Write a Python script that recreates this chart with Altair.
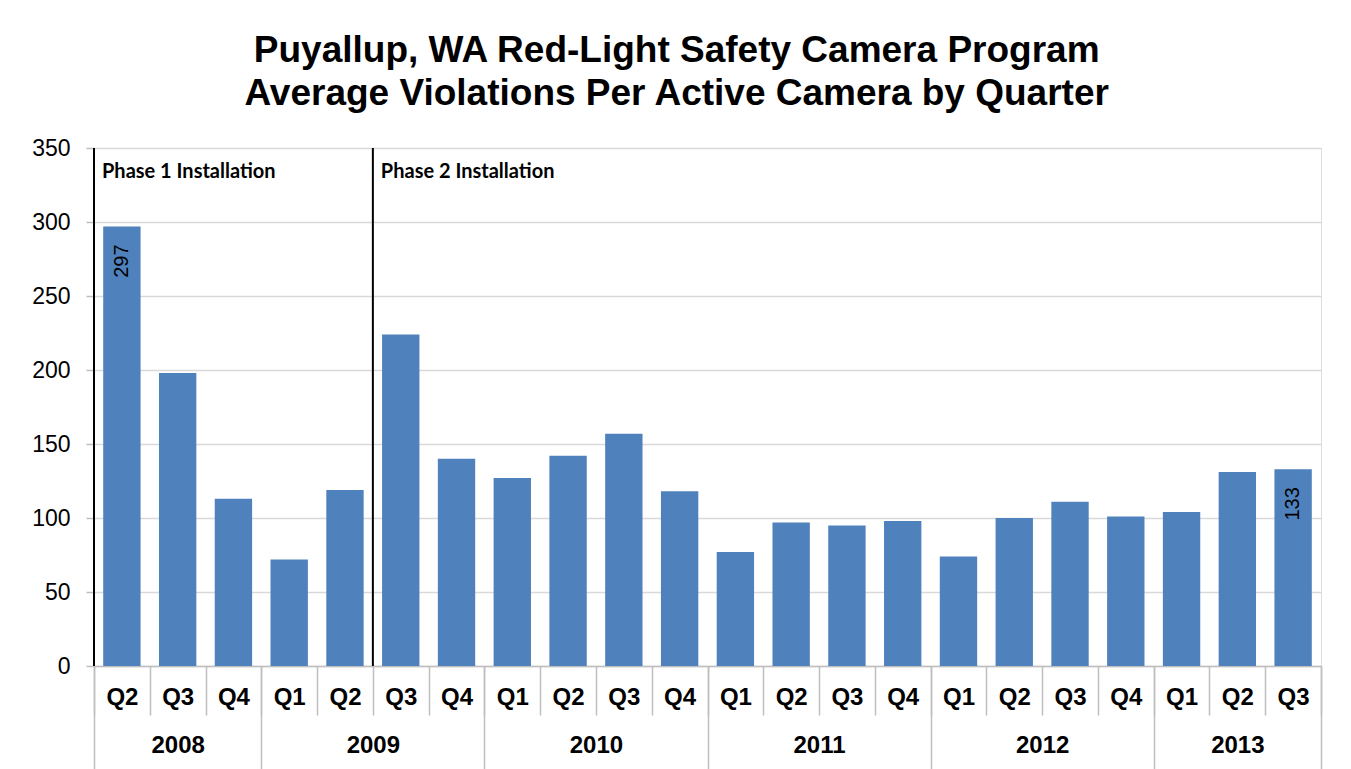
import json
import altair as alt
import pandas as pd

# ---- data ----
quarters = ["Q2", "Q3", "Q4", "Q1", "Q2", "Q3", "Q4", "Q1", "Q2", "Q3", "Q4",
            "Q1", "Q2", "Q3", "Q4", "Q1", "Q2", "Q3", "Q4", "Q1", "Q2", "Q3"]
values = [297, 198, 113, 72, 119, 224, 140, 127, 142, 157, 118,
          77, 97, 95, 98, 74, 100, 111, 101, 104, 131, 133]
years = ["2008", "2009", "2010", "2011", "2012", "2013"]
quarters_per_year = [3, 4, 4, 4, 4, 3]
phase_labels = ["Phase 1 Installation", "Phase 2 Installation"]
phase_start_index = [0, 5]
labelled_bars = [0, 21]

n = len(values)
bar_frac = 0.67

bars_df = pd.DataFrame({
    "idx": list(range(n)),
    "quarter": quarters,
    "value": values,
})
bars_df["x0"] = bars_df["idx"] + (1 - bar_frac) / 2
bars_df["x1"] = bars_df["idx"] + 1 - (1 - bar_frac) / 2
bars_df["mid"] = bars_df["idx"] + 0.5
bars_df["label"] = bars_df["value"].astype(str)
bars_df["show"] = bars_df["idx"].isin(labelled_bars)

phase_df = pd.DataFrame({"pos": phase_start_index, "label": phase_labels})

# year boundaries and centres
bounds = [0]
for c in quarters_per_year:
    bounds.append(bounds[-1] + c)
centres = [(bounds[i] + bounds[i + 1]) / 2 for i in range(len(years))]

FONT = "Liberation Sans"
GRAY = "#BFBFBF"

xscale = alt.Scale(domain=[0, n], nice=False, zero=False)
yscale = alt.Scale(domain=[0, 350], nice=False)

quarter_expr = json.dumps(quarters) + "[floor(datum.value)]"
year_expr = "''"
for c, yv in zip(reversed(centres), reversed(years)):
    year_expr = f"(abs(datum.value - {c}) < 0.01) ? '{yv}' : ({year_expr})"

common = dict(orient="bottom", title=None, grid=False, labelFlush=False,
              labelOverlap=False, labelAngle=0)

quarter_label_axis = alt.Axis(
    values=[i + 0.5 for i in range(n)], labelExpr=quarter_expr, ticks=False,
    domain=True, domainColor=GRAY, domainWidth=1.5, labelFontSize=24,
    labelFontWeight="bold", labelFont=FONT, labelColor="black",
    labelPadding=19, **common)
quarter_div_axis = alt.Axis(
    values=list(range(n + 1)), labels=False, ticks=True, tickSize=49,
    tickColor=GRAY, tickWidth=1.5, domain=False, **common)
year_div_axis = alt.Axis(
    values=bounds, labels=False, ticks=True, tickSize=110,
    tickColor=GRAY, tickWidth=1.5, domain=False, **common)
year_label_axis = alt.Axis(
    values=centres, labelExpr=year_expr, ticks=False, domain=False,
    labelFontSize=24, labelFontWeight="bold", labelFont=FONT,
    labelColor="black", labelPadding=67, **common)

y_axis = alt.Axis(values=list(range(0, 351, 50)), title=None, domain=False,
                  tickColor=GRAY, tickSize=8, tickWidth=1.5,
                  gridColor="#D9D9D9", gridWidth=1.5,
                  labelFontSize=23, labelFont=FONT, labelColor="black",
                  labelPadding=16)

bars = alt.Chart(bars_df).mark_bar(color="#4F81BD").encode(
    x=alt.X("x0:Q", scale=xscale, axis=quarter_label_axis),
    x2="x1:Q",
    y=alt.Y("value:Q", scale=yscale, axis=y_axis),
    y2=alt.datum(0),
)

rules = alt.Chart(phase_df).mark_rule(color="black", strokeWidth=2).encode(
    x=alt.X("pos:Q", scale=xscale, axis=quarter_div_axis),
)

phase_text = alt.Chart(phase_df).mark_text(
    align="left", baseline="alphabetic", dx=8, fontSize=20, fontWeight="bold",
    font="Lato", color="black",
).encode(
    x=alt.X("pos:Q", scale=xscale, axis=year_div_axis),
    y=alt.value(30),
    text="label:N",
)

value_text = alt.Chart(bars_df).transform_filter("datum.show").mark_text(
    angle=270, align="right", baseline="middle", dx=-18, fontSize=20,
    font=FONT, color="black",
).encode(
    x=alt.X("mid:Q", scale=xscale, axis=year_label_axis),
    y=alt.Y("value:Q", scale=yscale, axis=y_axis),
    text="label:N",
)

chart = alt.layer(bars, rules, phase_text, value_text).resolve_axis(
    x="independent"
).properties(
    width=1227,
    height=518,
    padding={"left": 23, "top": 24, "right": 5, "bottom": 5},
    title=alt.TitleParams(
        ["Puyallup, WA Red-Light Safety Camera Program",
         "Average Violations Per Active Camera by Quarter"],
        fontSize=37, font=FONT, fontWeight="bold", anchor="middle",
        frame="bounds", lineHeight=43, offset=24, color="black",
    ),
).configure_view(stroke=None).configure(background="white")

chart.save("out.html", embed_options={"renderer": "svg", "actions": False})
